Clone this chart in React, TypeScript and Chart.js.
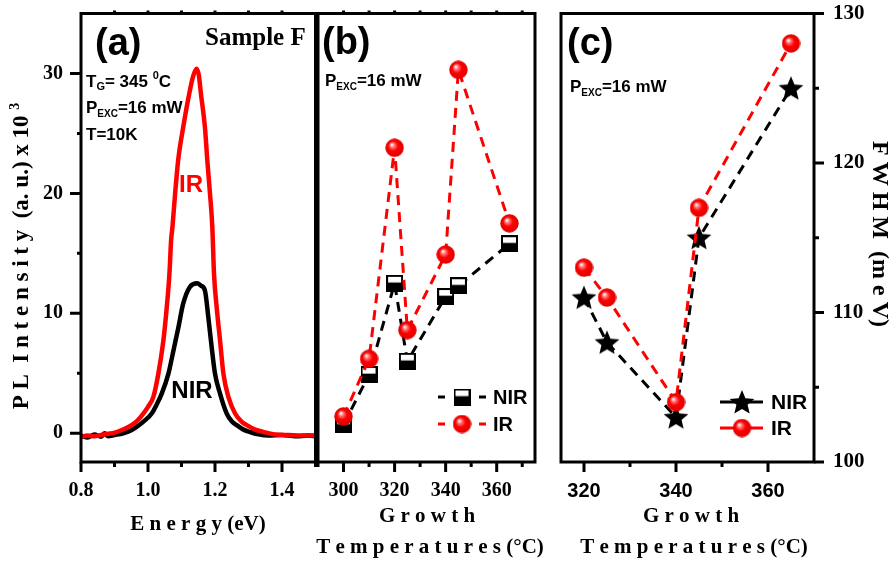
import { useEffect, useRef } from 'react';
import { Chart, registerables } from 'chart.js';

Chart.register(...registerables);

const W = 893;
const H = 562;
const SERIF = '"Liberation Serif", "Times New Roman", serif';
const SANS = '"Liberation Sans", Arial, sans-serif';
const RED = '#ff0000';

// ---------- Panel (a): PL spectra ----------
const irEnergy = [0.8, 0.82, 0.84, 0.86, 0.88, 0.9, 0.92, 0.94, 0.951, 0.97, 0.986, 1.0, 1.016, 1.031, 1.046, 1.056, 1.064, 1.069, 1.073, 1.081, 1.09, 1.105, 1.123, 1.135, 1.145, 1.152, 1.158, 1.17, 1.177, 1.185, 1.192, 1.197, 1.205, 1.215, 1.225, 1.24, 1.26, 1.28, 1.295, 1.32, 1.344, 1.38, 1.42, 1.46, 1.5];
const irIntensity = [-0.3, -0.2, -0.25, -0.15, -0.05, 0.05, 0.25, 0.5, 0.67, 1.1, 1.64, 2.2, 3.03, 4.98, 7.75, 10.5, 13.3, 16.1, 17.2, 20.0, 22.75, 25.5, 28.3, 29.8, 30.4, 29.8, 28.3, 25.5, 22.75, 20.0, 17.2, 13.3, 10.5, 7.75, 4.98, 3.03, 1.64, 0.95, 0.67, 0.3, 0.11, -0.1, -0.15, -0.2, -0.2];
const nirEnergy = [0.8, 0.82, 0.84, 0.86, 0.87, 0.88, 0.9, 0.926, 0.95, 0.966, 0.99, 1.011, 1.026, 1.041, 1.061, 1.076, 1.091, 1.105, 1.125, 1.147, 1.158, 1.17, 1.18, 1.19, 1.2, 1.215, 1.235, 1.25, 1.265, 1.285, 1.305, 1.33, 1.36, 1.4, 1.44, 1.48, 1.5];
const nirIntensity = [-0.2, -0.35, -0.1, -0.3, 0.0, -0.25, -0.15, 0.0, 0.25, 0.53, 1.05, 1.64, 2.4, 3.3, 4.97, 6.9, 8.86, 10.8, 12.2, 12.5, 12.3, 11.9, 9.7, 7.2, 4.97, 3.3, 1.64, 1.0, 0.67, 0.3, 0.1, -0.1, -0.2, -0.15, -0.25, -0.2, -0.25];

// ---------- Panel (b): peak intensity vs growth temperature ----------
const growthTempB = [300, 310, 320, 325, 340, 345, 365];
const nirPeakB = [0.7, 4.9, 12.5, 6.0, 11.4, 12.3, 15.8];
const irPeakB = [1.4, 6.2, 23.8, 8.6, 14.9, 30.3, 17.5];

// ---------- Panel (c): FWHM vs growth temperature ----------
const growthTempC = [320, 325, 340, 345, 365];
const nirFwhm = [111, 108, 103, 115, 125];
const irFwhm = [113, 111, 104, 117, 128];

// ---------- tick labels ----------
const energyTickLabels = [0.8, 1.0, 1.2, 1.4];
const energyMinorTicks = [0.9, 1.1, 1.3, 1.5];
const intensityTickLabels = [0, 10, 20, 30];
const intensityMinorTicks = [5, 15, 25];
const tempTickLabelsB = [300, 320, 340, 360];
const tempMinorTicksB = [290, 310, 330, 350, 370];
const tempTickLabelsC = [320, 340, 360];
const tempMinorTicksC = [330, 350];
const fwhmTickLabels = [100, 110, 120, 130];
const fwhmMinorTicks = [105, 115, 125];

const pairs = (xs: number[], ys: number[]) => xs.map((x, i) => ({ x, y: ys[i] }));
const near = (v: number, list: number[]) => list.some((t) => Math.abs(t - v) < 1e-6);

function makeSphere(d: number): HTMLCanvasElement {
  const c = document.createElement('canvas');
  c.width = d; c.height = d;
  const g = c.getContext('2d')!;
  const r = d / 2;
  const grad = g.createRadialGradient(r - r * 0.3, r - r * 0.35, r * 0.04, r, r, r);
  grad.addColorStop(0, '#ffffff');
  grad.addColorStop(0.22, '#ff7070');
  grad.addColorStop(0.5, '#ff0000');
  grad.addColorStop(1, '#dd0000');
  g.fillStyle = grad;
  g.beginPath();
  g.arc(r, r, r - 0.3, 0, Math.PI * 2);
  g.fill();
  return c;
}

function makeHalfSquare(s: number): HTMLCanvasElement {
  const c = document.createElement('canvas');
  c.width = s; c.height = s;
  const g = c.getContext('2d')!;
  g.fillStyle = '#fff';
  g.fillRect(0, 0, s, s);
  g.fillStyle = '#000';
  g.fillRect(0, s * 0.45, s, s * 0.55);
  g.strokeStyle = '#000';
  g.lineWidth = 2;
  g.strokeRect(1, 1, s - 2, s - 2);
  return c;
}

function makeStar(d: number): HTMLCanvasElement {
  const c = document.createElement('canvas');
  c.width = d; c.height = d;
  const g = c.getContext('2d')!;
  const R = d / 2;
  const r = R * 0.45;
  const cx = d / 2;
  const cy = d / 2 + R * 0.08;
  g.beginPath();
  for (let i = 0; i < 10; i++) {
    const rad = i % 2 === 0 ? R : r;
    const ang = -Math.PI / 2 + (i * Math.PI) / 5;
    const px = cx + rad * Math.cos(ang);
    const py = cy + rad * Math.sin(ang);
    if (i === 0) g.moveTo(px, py); else g.lineTo(px, py);
  }
  g.closePath();
  g.fillStyle = '#000';
  g.fill();
  return c;
}

type Part = { t: string; size: number; dy?: number };
function drawParts(ctx: CanvasRenderingContext2D, x: number, y: number, parts: Part[], family: string, color = '#000') {
  ctx.fillStyle = color;
  ctx.textAlign = 'left';
  ctx.textBaseline = 'alphabetic';
  let cx = x;
  for (const p of parts) {
    ctx.font = `bold ${p.size}px ${family}`;
    ctx.fillText(p.t, cx, y + (p.dy || 0));
    cx += ctx.measureText(p.t).width;
  }
  return cx - x;
}
function partsWidth(ctx: CanvasRenderingContext2D, parts: Part[], family: string) {
  let w = 0;
  for (const p of parts) {
    ctx.font = `bold ${p.size}px ${family}`;
    w += ctx.measureText(p.t).width;
  }
  return w;
}

function text(ctx: CanvasRenderingContext2D, s: string, x: number, y: number, font: string, align: CanvasTextAlign = 'left', color = '#000', baseline: CanvasTextBaseline = 'alphabetic') {
  ctx.font = font;
  ctx.fillStyle = color;
  ctx.textAlign = align;
  ctx.textBaseline = baseline;
  ctx.fillText(s, x, y);
}

function box(chart: any) {
  const { ctx, chartArea: a } = chart;
  ctx.strokeStyle = '#000';
  ctx.lineWidth = 3;
  ctx.strokeRect(a.left, a.top, a.right - a.left, a.bottom - a.top);
}

function ticksX(chart: any, values: number[], len: number, atTop = false) {
  const { ctx, chartArea: a } = chart;
  const s = chart.scales.x;
  ctx.strokeStyle = '#000';
  ctx.lineWidth = 3;
  ctx.beginPath();
  for (const v of values) {
    const px = s.getPixelForValue(v);
    if (atTop) { ctx.moveTo(px, a.top); ctx.lineTo(px, a.top - len); }
    else { ctx.moveTo(px, a.bottom); ctx.lineTo(px, a.bottom + len); }
  }
  ctx.stroke();
}

function ticksY(chart: any, values: number[], len: number, right = false) {
  const { ctx, chartArea: a } = chart;
  const s = chart.scales.y;
  ctx.strokeStyle = '#000';
  ctx.lineWidth = 3;
  ctx.beginPath();
  for (const v of values) {
    const py = s.getPixelForValue(v);
    if (right) { ctx.moveTo(a.right, py); ctx.lineTo(a.right + len, py); }
    else { ctx.moveTo(a.left, py); ctx.lineTo(a.left - len, py); }
  }
  ctx.stroke();
}

function pexc(ctx: CanvasRenderingContext2D, x: number, y: number) {
  drawParts(ctx, x, y, [
    { t: 'P', size: 17 },
    { t: 'EXC', size: 10, dy: 4 },
    { t: '=16 mW', size: 17 },
  ], SANS);
}

function tempTitle(ctx: CanvasRenderingContext2D, cx: number) {
  text(ctx, 'G r o w t h', cx, 522, `bold 21px ${SERIF}`, 'center');
  text(ctx, 'T e m p e r a t u r e s (°C)', cx + 3, 553, `bold 21px ${SERIF}`, 'center');
}

function frame(l: number, t: number, r: number, b: number, yLeft: number, yRight: number, xH: number) {
  return { padding: { left: l - yLeft, top: t, right: W - r - yRight, bottom: H - b - xH } };
}

const fitX = (s: any) => { s.height = 40; s.paddingLeft = 0; s.paddingRight = 0; };
const fitY = (w: number) => (s: any) => { s.width = w; s.paddingTop = 0; s.paddingBottom = 0; };

function xScale(min: number, max: number, step: number, labels: number[], font: any, fmt: (v: number) => string) {
  return {
    type: 'linear', position: 'bottom', min, max,
    grid: { display: false, drawTicks: false },
    border: { display: false },
    ticks: {
      stepSize: step, includeBounds: false, autoSkip: false, maxRotation: 0, minRotation: 0, padding: 17, color: '#000', font,
      callback: (v: any) => (near(Number(v), labels) ? fmt(Number(v)) : null),
    },
    afterFit: fitX,
  };
}

const baseOptions = {
  responsive: false,
  animation: false,
  events: [],
  plugins: { legend: { display: false }, tooltip: { enabled: false }, title: { display: false } },
};

const TOP = 13.5;
const BOTTOM = 462;

export default function App() {
  const refA = useRef<HTMLCanvasElement>(null);
  const refB = useRef<HTMLCanvasElement>(null);
  const refC = useRef<HTMLCanvasElement>(null);

  useEffect(() => {
    const sphere = makeSphere(19);
    const half = makeHalfSquare(17);
    const star = makeStar(26);

    // ----- Panel (a) -----
    const decorA = {
      id: 'decorA',
      afterDraw(chart: any) {
        const ctx = chart.ctx as CanvasRenderingContext2D;
        ctx.save();
        box(chart);
        ticksY(chart, intensityTickLabels, 11);
        ticksY(chart, intensityMinorTicks, 4);
        ticksX(chart, energyTickLabels, 10);
        ticksX(chart, energyMinorTicks, 5);
        ticksX(chart, [0.9, 1.0, 1.1, 1.2, 1.3, 1.4], 3, true);
        text(ctx, '(a)', 95, 55, `bold 38px ${SANS}`);
        text(ctx, 'Sample F', 205, 45, `bold 25px ${SERIF}`);
        drawParts(ctx, 86, 87, [
          { t: 'T', size: 17 }, { t: 'G', size: 11, dy: 3 }, { t: '= 345 ', size: 17 },
          { t: '0', size: 11, dy: -8 }, { t: 'C', size: 17 },
        ], SANS);
        pexc(ctx, 86, 113);
        text(ctx, 'T=10K', 86, 140, `bold 17px ${SANS}`);
        text(ctx, 'IR', 191, 185, `bold 24px ${SANS}`, 'center', RED, 'middle');
        text(ctx, 'NIR', 192, 391, `bold 24px ${SANS}`, 'center', '#000', 'middle');
        text(ctx, 'E n e r g y (eV)', 198, 530, `bold 21px ${SERIF}`, 'center');
        // rotated y title
        const parts: Part[] = [
          { t: 'P L  I n t e n s i t y  (a. u.) x 10 ', size: 23 },
          { t: '3', size: 14, dy: -9 },
        ];
        const w = partsWidth(ctx, parts, SERIF);
        ctx.save();
        ctx.translate(28, 256);
        ctx.rotate(-Math.PI / 2);
        drawParts(ctx, -w / 2, 0, parts, SERIF);
        ctx.restore();
        ctx.restore();
      },
    };

    const chartA = new Chart(refA.current!, {
      type: 'line',
      data: {
        datasets: [
          { label: 'IR', data: pairs(irEnergy, irIntensity), borderColor: RED, borderWidth: 4.5, pointRadius: 0, cubicInterpolationMode: 'monotone', borderJoinStyle: 'round' },
          { label: 'NIR', data: pairs(nirEnergy, nirIntensity), borderColor: '#000', borderWidth: 4.5, pointRadius: 0, cubicInterpolationMode: 'monotone', borderJoinStyle: 'round' },
        ],
      } as any,
      options: {
        ...baseOptions,
        layout: frame(81, TOP, 315.5, BOTTOM, 40, 0, 40),
        scales: {
          x: xScale(0.8, 1.5, 0.1, energyTickLabels, { family: SERIF, size: 20, weight: 'bold' }, (v) => v.toFixed(1)),
          y: {
            type: 'linear', position: 'left', min: -2.4, max: 35,
            grid: { display: false, drawTicks: false }, border: { display: false },
            ticks: { stepSize: 5, includeBounds: false, autoSkip: false, padding: 18, color: '#000', font: { family: SERIF, size: 20, weight: 'bold' }, callback: (v: any) => (near(Number(v), intensityTickLabels) ? String(v) : null) },
            afterFit: fitY(40),
          },
        },
      } as any,
      plugins: [decorA],
    });

    // ----- Panel (b) -----
    const decorB = {
      id: 'decorB',
      afterDraw(chart: any) {
        const ctx = chart.ctx as CanvasRenderingContext2D;
        ctx.save();
        box(chart);
        ticksX(chart, tempTickLabelsB, 10);
        ticksX(chart, tempMinorTicksB, 5);
        ticksX(chart, [300, 310, 320, 330, 340, 350, 360, 370], 3, true);
        text(ctx, '(b)', 322, 54, `bold 38px ${SANS}`);
        pexc(ctx, 325, 86);
        // legend
        ctx.lineWidth = 3;
        ctx.strokeStyle = '#000';
        ctx.beginPath();
        ctx.moveTo(438, 397); ctx.lineTo(445, 397);
        ctx.moveTo(479, 397); ctx.lineTo(486, 397);
        ctx.stroke();
        ctx.drawImage(half, 462 - 8.5, 397 - 8.5);
        text(ctx, 'NIR', 493, 398, `bold 20px ${SANS}`, 'left', '#000', 'middle');
        ctx.strokeStyle = RED;
        ctx.beginPath();
        ctx.moveTo(438, 424); ctx.lineTo(445, 424);
        ctx.moveTo(479, 424); ctx.lineTo(486, 424);
        ctx.stroke();
        ctx.drawImage(sphere, 462 - 9.5, 424 - 9.5);
        text(ctx, 'IR', 493, 425, `bold 20px ${SANS}`, 'left', '#000', 'middle');
        tempTitle(ctx, 427);
        ctx.restore();
      },
    };

    const chartB = new Chart(refB.current!, {
      type: 'line',
      data: {
        datasets: [
          { label: 'IR', data: pairs(growthTempB, irPeakB), borderColor: RED, borderWidth: 3, borderDash: [10, 7], pointStyle: sphere, pointRadius: 9 },
          { label: 'NIR', data: pairs(growthTempB, nirPeakB), borderColor: '#000', borderWidth: 3, borderDash: [10, 7], pointStyle: half, pointRadius: 9 },
        ],
      } as any,
      options: {
        ...baseOptions,
        layout: frame(318, TOP, 535, BOTTOM, 0, 0, 40),
        scales: {
          x: xScale(290, 375, 10, tempTickLabelsB, { family: SERIF, size: 20, weight: 'bold' }, (v) => String(v)),
          y: { type: 'linear', display: false, min: -2.4, max: 35 },
        },
      } as any,
      plugins: [decorB],
    });

    // ----- Panel (c) -----
    const decorC = {
      id: 'decorC',
      afterDraw(chart: any) {
        const ctx = chart.ctx as CanvasRenderingContext2D;
        ctx.save();
        box(chart);
        ticksX(chart, tempTickLabelsC, 10);
        ticksX(chart, tempMinorTicksC, 5);
        ticksY(chart, fwhmTickLabels, 10, true);
        ticksY(chart, fwhmMinorTicks, 5, true);
        text(ctx, '(c)', 567, 55, `bold 38px ${SANS}`);
        pexc(ctx, 570, 92);
        // legend
        ctx.lineWidth = 3;
        ctx.strokeStyle = '#000';
        ctx.beginPath(); ctx.moveTo(720, 402); ctx.lineTo(763, 402); ctx.stroke();
        ctx.drawImage(star, 742 - 13, 402 - 13);
        text(ctx, 'NIR', 771, 403, `bold 21px ${SANS}`, 'left', '#000', 'middle');
        ctx.strokeStyle = RED;
        ctx.beginPath(); ctx.moveTo(720, 428); ctx.lineTo(763, 428); ctx.stroke();
        ctx.drawImage(sphere, 742 - 9.5, 428 - 9.5);
        text(ctx, 'IR', 771, 429, `bold 21px ${SANS}`, 'left', '#000', 'middle');
        tempTitle(ctx, 691);
        // right title
        ctx.save();
        ctx.translate(873, 234);
        ctx.rotate(Math.PI / 2);
        text(ctx, 'F W H M  (m e V)', 0, 0, `bold 24px ${SERIF}`, 'center');
        ctx.restore();
        ctx.restore();
      },
    };

    const chartC = new Chart(refC.current!, {
      type: 'line',
      data: {
        datasets: [
          { label: 'IR', data: pairs(growthTempC, irFwhm), borderColor: RED, borderWidth: 3, borderDash: [10, 7], pointStyle: sphere, pointRadius: 9 },
          { label: 'NIR', data: pairs(growthTempC, nirFwhm), borderColor: '#000', borderWidth: 3, borderDash: [10, 7], pointStyle: star, pointRadius: 9 },
        ],
      } as any,
      options: {
        ...baseOptions,
        layout: frame(561, TOP, 814, BOTTOM, 0, 70, 40),
        scales: {
          x: xScale(315, 370, 10, tempTickLabelsC, { family: SANS, size: 20, weight: 'bold' }, (v) => String(v)),
          y: {
            type: 'linear', position: 'right', min: 100, max: 130,
            grid: { display: false, drawTicks: false }, border: { display: false },
            ticks: { stepSize: 5, includeBounds: false, autoSkip: false, padding: 19, color: '#000', font: { family: SERIF, size: 21, weight: 'bold' }, callback: (v: any) => (near(Number(v), fwhmTickLabels) ? String(v) : null) },
            afterFit: fitY(70),
          },
        },
      } as any,
      plugins: [decorC],
    });

    return () => {
      chartA.destroy();
      chartB.destroy();
      chartC.destroy();
    };
  }, []);

  const cv: React.CSSProperties = { position: 'absolute', left: 0, top: 0, width: W, height: H, display: 'block' };
  return (
    <div style={{ position: 'absolute', left: 0, top: 0, width: W, height: H, background: '#fff', overflow: 'hidden' }}>
      <canvas ref={refA} width={W} height={H} style={cv} />
      <canvas ref={refB} width={W} height={H} style={cv} />
      <canvas ref={refC} width={W} height={H} style={cv} />
    </div>
  );
}
